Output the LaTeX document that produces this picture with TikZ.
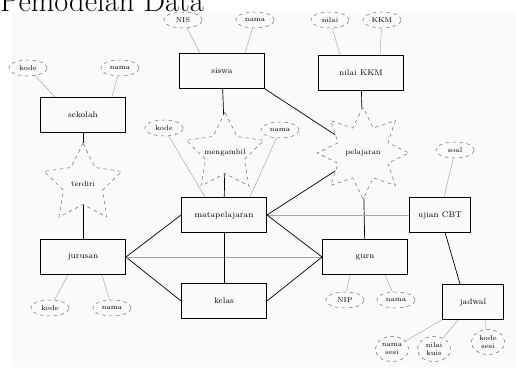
\documentclass[tikz,border=0pt]{standalone}
\usepackage{tikz}
\usetikzlibrary{shapes.geometric,positioning}

\tikzset{
  entitas/.style={draw,thick,minimum width=2.55cm,minimum height=1.05cm,inner sep=1pt,font=\fontsize{7}{8}\selectfont},
  entitaskecil/.style={entitas,minimum width=1.85cm},
  atribut/.style={draw,dashed,gray!80!black,ellipse,minimum width=1.15cm,minimum height=0.48cm,inner sep=0pt,text=black,font=\fontsize{6}{6.5}\selectfont,align=center},
  relasi/.style={draw,dashed,gray!80!black,star,star points=5,star point ratio=2.0,minimum size=2.45cm,inner sep=0pt},
  relasiteks/.style={font=\fontsize{6.5}{7}\selectfont,inner sep=0pt},
  garis/.style={gray!70,thin},
  hubung/.style={black,semithick}
}

\begin{document}
\begin{tikzpicture}[x=0.03cm,y=-0.03cm]
\useasboundingbox (0,0) rectangle (516,367);
\fill[gray!4] (12,13) rectangle (516,367);
\node[anchor=base west,inner sep=0pt,font=\fontsize{26}{28}\selectfont] (judul) at (0,12) {Pemodelan Data};

% entitas
\node[entitas] (siswa) at (222,71) {siswa};
\node[entitas] (nilai) at (361,73) {nilai KKM};
\node[entitas] (sekolah) at (83,115) {sekolah};
\node[entitas] (mapel) at (224,215) {matapelajaran};
\node[entitaskecil] (ujian) at (440,215) {ujian CBT};
\node[entitas] (jurusan) at (83,257) {jurusan};
\node[entitas] (guru) at (365,257) {guru};
\node[entitas] (kelas) at (224,301) {kelas};
\node[entitaskecil] (jadwal) at (473,302) {jadwal};

% relasi
\node[relasi,label={[relasiteks]center:terdiri}] (terdiri) at (83,184) {};
\node[relasi,label={[relasiteks]center:mengambil}] (ambil) at (225,153) {};
\node[relasi,star points=8,star point ratio=1.7,minimum size=2.75cm,label={[relasiteks]center:pelajaran}] (pelajaran) at (363,153) {};

% atribut
\node[atribut] (nis) at (183,20) {NIS};
\node[atribut] (namasiswa) at (255,20) {nama};
\node[atribut] (nilaiangka) at (330,20) {nilai};
\node[atribut] (kkm) at (382,20) {KKM};
\node[atribut] (kodesekolah) at (28,68) {kode};
\node[atribut] (namasekolah) at (120,68) {nama};
\node[atribut] (kodemapel) at (164,128) {kode};
\node[atribut] (namamapel) at (280,130) {nama};
\node[atribut] (soal) at (455,150) {soal};
\node[atribut] (kodejurusan) at (50,308) {kode};
\node[atribut] (namajurusan) at (112,308) {nama};
\node[atribut] (nip) at (345,300) {NIP};
\node[atribut] (namaguru) at (396,300) {nama};
\node[atribut,minimum width=1.0cm,minimum height=0.75cm] (namasesi) at (392,349) {nama\\sesi};
\node[atribut,minimum width=1.0cm,minimum height=0.75cm] (jamsesi) at (434,349) {nilai\\kuis};
\node[atribut,minimum width=1.0cm,minimum height=0.75cm] (kodesesi) at (488,342) {kode\\sesi};

% garis atribut
\draw[garis] (nis) -- (siswa.north west -| 200,0);
\draw[garis] (namasiswa) -- (siswa.north east -| 245,0);
\draw[garis] (nilaiangka) -- (nilai.north west -| 340,0);
\draw[garis] (kkm) -- (nilai.north east -| 380,0);
\draw[garis] (kodesekolah) -- (sekolah.north west -| 55,0);
\draw[garis] (namasekolah) -- (sekolah.north east -| 112,0);
\draw[garis] (kodemapel) -- (mapel.north west -| 205,0);
\draw[garis] (namamapel) -- (mapel.north east -| 250,0);
\draw[garis] (soal) -- (ujian);
\draw[garis] (kodejurusan) -- (jurusan.south west -| 68,0);
\draw[garis] (namajurusan) -- (jurusan.south east -| 102,0);
\draw[garis] (nip) -- (guru.south west -| 350,0);
\draw[garis] (namaguru) -- (guru.south east -| 385,0);
\draw[garis] (namasesi) -- (jadwal.south west);
\draw[garis] (jamsesi) -- (jadwal.south -| 458,0);
\draw[garis] (kodesesi) -- (jadwal.south -| 485,0);

% garis relasi
\draw[hubung] (sekolah) -- (terdiri);
\draw[hubung] (terdiri) -- (jurusan);
\draw[hubung] (siswa) -- (ambil);
\draw[hubung] (ambil) -- (mapel);
\draw[hubung] (siswa.south east) -- (pelajaran);
\draw[hubung] (nilai) -- (pelajaran);
\draw[hubung] (pelajaran) -- (guru);
\draw[hubung] (mapel.east) -- (pelajaran);
\draw[garis] (mapel.east) -- (ujian.west);
\draw[hubung] (ujian) -- (jadwal.north -| 460,0);
\draw[hubung] (mapel.west) -- (jurusan.east);
\draw[hubung] (jurusan.east) -- (kelas.west);
\draw[garis] (jurusan.east) -- (guru.west);
\draw[hubung] (mapel.east) -- (guru.west);
\draw[hubung] (kelas.east) -- (guru.west);
\draw[hubung] (mapel) -- (kelas);
\end{tikzpicture}
\end{document}
